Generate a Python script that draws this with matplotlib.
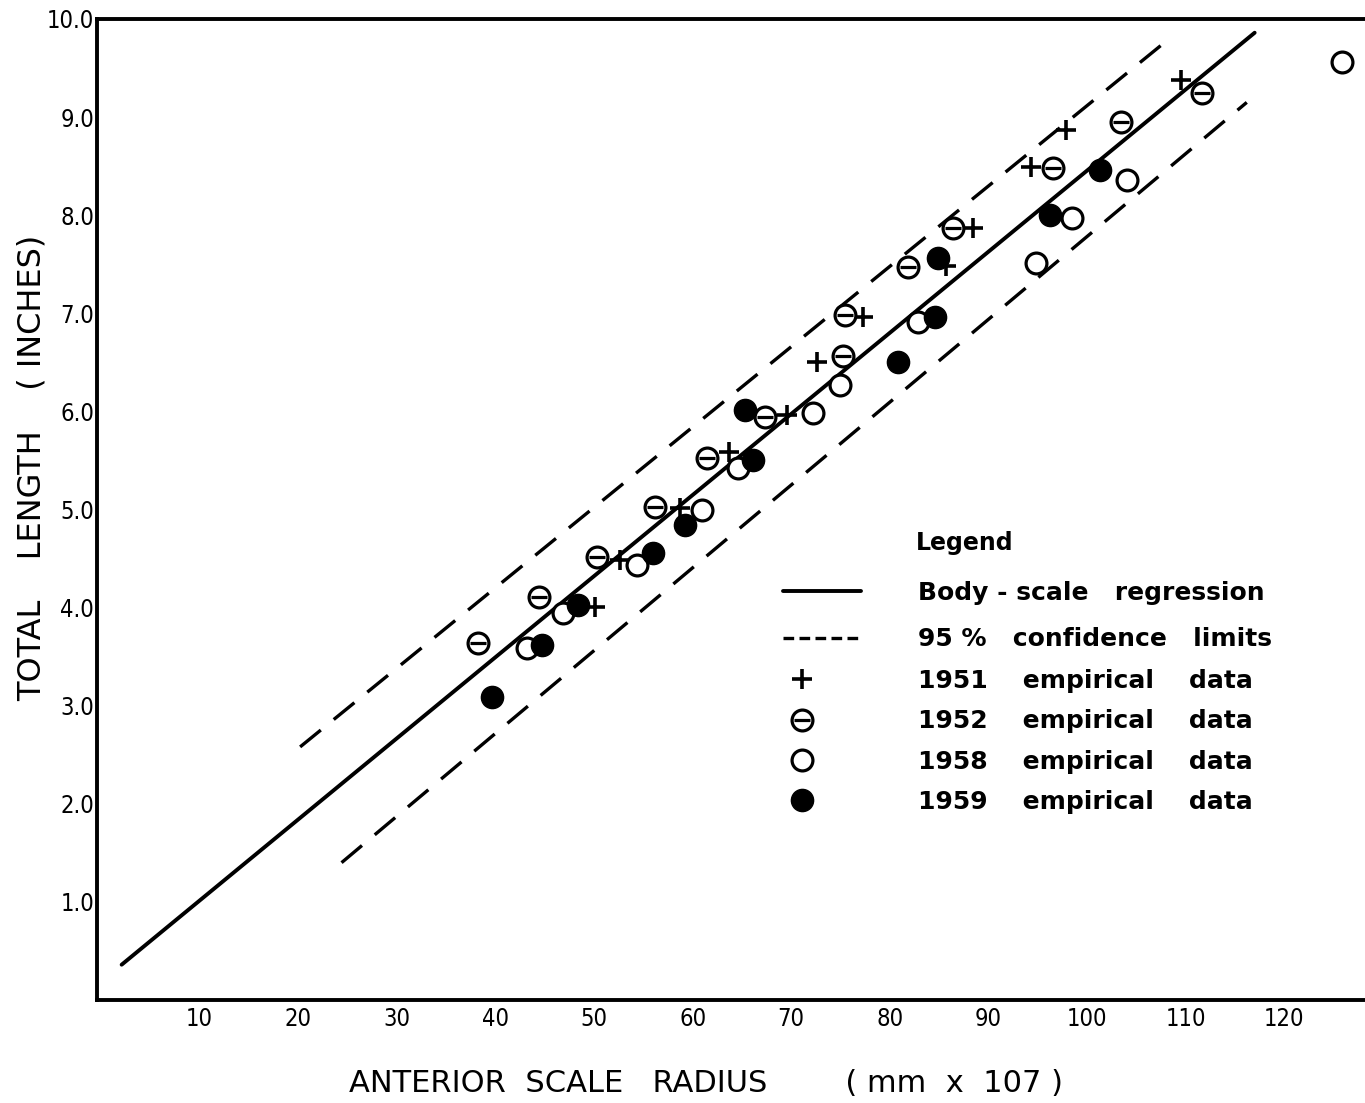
import matplotlib
matplotlib.use("Agg")
import matplotlib.pyplot as plt
from matplotlib.legend_handler import HandlerTuple
from matplotlib.lines import Line2D

# regression line and 95% limits (end points)
reg_x = [2.1, 117.0]
reg_y = [0.36, 9.86]
upper_x = [20.2, 108.1]
upper_y = [2.58, 9.78]
lower_x = [24.4, 116.2]
lower_y = [1.40, 9.15]

# empirical data
x1951 = [50.1, 52.6, 58.7, 63.7, 69.6, 72.6, 77.3, 85.7, 88.4, 94.3, 97.9, 109.5]
y1951 = [4.01, 4.49, 5.02, 5.59, 5.96, 6.50, 6.96, 7.48, 7.87, 8.49, 8.87, 9.38]

x1952 = [38.2, 44.4, 50.3, 56.2, 61.5, 67.3, 75.3, 75.5, 81.8, 86.4, 96.6, 103.4, 111.7]
y1952 = [3.64, 4.11, 4.52, 5.03, 5.53, 5.94, 6.56, 6.98, 7.47, 7.87, 8.48, 8.95, 9.25]

x1958 = [43.2, 46.9, 54.4, 61.0, 64.6, 72.2, 74.9, 82.9, 94.8, 98.5, 104.1, 125.9]
y1958 = [3.59, 3.94, 4.43, 4.99, 5.42, 5.98, 6.27, 6.91, 7.51, 7.97, 8.36, 9.56]

x1959 = [39.7, 44.7, 48.4, 56.0, 59.2, 65.3, 66.1, 80.8, 84.6, 84.9, 96.2, 101.3]
y1959 = [3.09, 3.62, 4.03, 4.56, 4.84, 6.01, 5.50, 6.50, 6.96, 7.56, 8.00, 8.46]

xticks = [10, 20, 30, 40, 50, 60, 70, 80, 90, 100, 110, 120]
yticks = [1, 2, 3, 4, 5, 6, 7, 8, 9, 10]

plt.rcParams['font.family'] = ['DejaVu Sans']

fig = plt.figure(figsize=(13.65, 11.03), dpi=100)
ax = fig.add_axes([97 / 1365, 1 - 1000 / 1103, 1275 / 1365, 981 / 1103])
ax.set_xlim(-0.4, 128.9)
ax.set_ylim(0, 10)

k = 'black'
h_reg, = ax.plot(reg_x, reg_y, color=k, lw=2.8, solid_capstyle='round')
ax.plot(upper_x, upper_y, color=k, lw=2.4, dashes=(8, 5))
ax.plot(lower_x, lower_y, color=k, lw=2.4, dashes=(8, 5))

h51, = ax.plot(x1951, y1951, ls='none', marker='+', ms=15, mew=2.6, color=k)
h52a, = ax.plot(x1952, y1952, ls='none', marker='o', ms=15, mew=2.3,
                mfc='white', mec=k)
h52b, = ax.plot(x1952, y1952, ls='none', marker='_', ms=11, mew=2.3, color=k)
h58, = ax.plot(x1958, y1958, ls='none', marker='o', ms=15, mew=2.3,
               mfc='white', mec=k)
h59, = ax.plot(x1959, y1959, ls='none', marker='o', ms=16, color=k)

for s in ['left', 'bottom', 'top']:
    ax.spines[s].set_linewidth(2.8)
ax.spines['right'].set_visible(False)

ax.set_xticks(xticks)
ax.set_xticklabels([str(v) for v in xticks])
ax.set_yticks(yticks)
ax.set_yticklabels(['%.1f' % v for v in yticks])
ax.tick_params(length=0, labelsize=17)
ax.tick_params(axis='x', pad=5)
ax.tick_params(axis='y', pad=2)
for t in ax.get_xticklabels() + ax.get_yticklabels():
    t.set_fontstretch('condensed')

fig.text(32 / 1365, 1 - 468 / 1103, 'TOTAL    LENGTH    ( INCHES)',
         rotation=90, ha='center', va='center', fontsize=23)
fig.text(706 / 1365, 1 - 1083 / 1103,
         'ANTERIOR  SCALE   RADIUS        ( mm  x  107 )',
         ha='center', va='center', fontsize=22)

# legend
fig.text(916 / 1365, 1 - 543 / 1103, 'Legend', ha='left', va='center',
         fontsize=17, fontweight='bold')
ci_key = Line2D([], [], color=k, lw=2.4, dashes=(3.2, 1.6))
leg1 = ax.legend([h_reg, ci_key],
                 ['Body - scale   regression', '95 %   confidence   limits'],
                 loc='upper left', bbox_to_anchor=(783 / 1365, 1 - 581 / 1103),
                 bbox_transform=fig.transFigure, frameon=False,
                 handlelength=3.1, handletextpad=2.3, labelspacing=0.9,
                 borderpad=0, borderaxespad=0,
                 prop={'size': 18, 'weight': 'bold'})
ax.add_artist(leg1)
ax.legend([h51, (h52a, h52b), h58, h59],
          ['1951    empirical    data', '1952    empirical    data',
           '1958    empirical    data', '1959    empirical    data'],
          handler_map={tuple: HandlerTuple(ndivide=1, pad=0)},
          loc='upper left', bbox_to_anchor=(783 / 1365, 1 - 669 / 1103),
          bbox_transform=fig.transFigure, frameon=False,
          handlelength=1.5, handletextpad=3.9, labelspacing=0.65,
          borderpad=0, borderaxespad=0,
          prop={'size': 18, 'weight': 'bold'})

fig.savefig('out.png', dpi=100)
